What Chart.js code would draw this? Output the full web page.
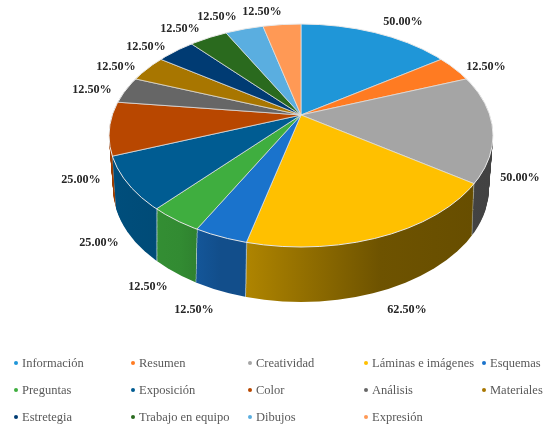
<!DOCTYPE html>
<html lang="es">
<head>
<meta charset="utf-8">
<title>Pie 3D</title>
<script src="https://cdn.jsdelivr.net/npm/chart.js@4/dist/chart.umd.min.js"></script>
<style>
    html, body { margin: 0; padding: 0; background: #fff; }
    #wrap { position: relative; width: 552px; height: 426px; overflow: hidden; filter: blur(0.45px); }
    #pie { position: absolute; left: 0; top: 0; }
    .item {
        position: absolute;
        font: 12.5px "Liberation Serif", serif;
        color: #595959;
        white-space: nowrap;
        line-height: 14px;
    }
    .item i {
        position: absolute;
        left: -8px;
        top: 5px;
        width: 4px;
        height: 4px;
        border-radius: 50%;
    }
</style>
</head>
<body>
<div id="wrap">
    <canvas id="pie" width="552" height="426"></canvas>
</div>
<script>
const categories = ['Información', 'Resumen', 'Creatividad', 'Láminas e imágenes', 'Esquemas',
    'Preguntas', 'Exposición', 'Color', 'Análisis', 'Materiales',
    'Estretegia', 'Trabajo en equipo', 'Dibujos', 'Expresión'];
const values = [50, 12.5, 50, 62.5, 12.5, 12.5, 25, 25, 12.5, 12.5, 12.5, 12.5, 12.5, 12.5];
const sliceColors = ['#1f96d8', '#ff7b22', '#a5a5a5', '#ffc000', '#1a73cc', '#3fae3f', '#005c92',
    '#b84700', '#666666', '#a87600', '#003b73', '#2a6a1e', '#5aaee0', '#ff9955'];

// centre of each percentage label, in page pixels
const labelPositions = [[403, 22], [486, 67], [520, 178], [407, 310], [194, 310], [148, 287], [99, 243],
    [81, 180], [92, 90], [116, 67], [146, 47], [180, 29], [217, 17], [262, 12]];

// legend grid
const legendColumns = [22, 139, 256, 372, 490];
const legendRows = [363, 390, 417];

// pie projection: slice rays start at the apex, the outline is a separate ellipse
const APEX = { x: 301, y: 115 };
const RIM = { x: 301, y: 135.5, rx: 192, ry: 111.5 };
const BASE = { x: 301, y: 188, rx: 188, ry: 114 };
const DEPTH = 52;
const SQUASH = 0.575;
const REACH = 250;

// wall brightness going left to right across the page
const wallShade = [[110, 0.85], [180, 0.8], [220, 0.68], [250, 0.68], [380, 0.43], [490, 0.4]];

function shade(hex, f) {
    const n = parseInt(hex.slice(1), 16);
    const r = Math.round((n >> 16) * f);
    const g = Math.round(((n >> 8) & 255) * f);
    const b = Math.round((n & 255) * f);
    return `rgb(${r},${g},${b})`;
}

function drawLayer(ctx, arcs, t, styles) {
    const lerp = (a, b) => a + (b - a) * t;
    ctx.save();
    ctx.beginPath();
    ctx.ellipse(lerp(RIM.x, BASE.x), lerp(RIM.y, BASE.y), lerp(RIM.rx, BASE.rx), lerp(RIM.ry, BASE.ry), 0, 0, Math.PI * 2);
    ctx.clip();
    const k = REACH / arcs[0].outerRadius;
    ctx.translate(APEX.x, APEX.y + t * DEPTH);
    ctx.scale(k, k * SQUASH);
    ctx.translate(-arcs[0].x, -arcs[0].y);
    arcs.forEach((arc, i) => {
        const original = arc.options;
        if (styles) arc.options = { ...original, ...styles[i] };
        arc.draw(ctx);
        arc.options = original;
    });
    ctx.restore();
}

const pie3d = {
    id: 'pie3d',
    beforeDatasetsDraw(chart) {
        const ctx = chart.ctx;
        const arcs = chart.getDatasetMeta(0).data;
        const k = REACH / arcs[0].outerRadius;
        const toUser = px => arcs[0].x + (px - APEX.x) / k;
        const walls = sliceColors.map(color => {
            const x0 = wallShade[0][0];
            const x1 = wallShade[wallShade.length - 1][0];
            const g = ctx.createLinearGradient(toUser(x0), 0, toUser(x1), 0);
            wallShade.forEach(([x, f]) => g.addColorStop((x - x0) / (x1 - x0), shade(color, f)));
            return { backgroundColor: g, borderColor: 'rgba(215,225,230,0.8)' };
        });
        for (let d = DEPTH; d > 0; d--) {
            drawLayer(ctx, arcs, d / DEPTH, walls);
        }
        drawLayer(ctx, arcs, 0, null);

        // light edge where the top meets the wall
        ctx.save();
        ctx.strokeStyle = '#e8e8e8';
        ctx.lineWidth = 1;
        ctx.beginPath();
        ctx.ellipse(RIM.x, RIM.y, RIM.rx, RIM.ry, 0, 0, Math.PI * 2);
        ctx.stroke();
        ctx.restore();
        return false;
    },
    afterDraw(chart) {
        const ctx = chart.ctx;
        ctx.save();
        ctx.font = 'bold 12.2px "Liberation Serif", serif';
        ctx.fillStyle = '#262626';
        ctx.textAlign = 'center';
        ctx.textBaseline = 'middle';
        values.forEach((v, i) => {
            ctx.fillText(v.toFixed(2) + '%', labelPositions[i][0], labelPositions[i][1]);
        });
        ctx.restore();
    }
};

new Chart(document.getElementById('pie'), {
    type: 'pie',
    data: {
        labels: categories,
        datasets: [{
            data: values,
            backgroundColor: sliceColors,
            borderColor: '#e4e4e4',
            borderWidth: 0.8
        }]
    },
    options: {
        responsive: false,
        animation: false,
        events: [],
        plugins: {
            legend: { display: false },
            tooltip: { enabled: false }
        }
    },
    plugins: [pie3d]
});

// legend: five columns, filled row by row
const wrap = document.getElementById('wrap');
categories.forEach((name, i) => {
    const item = document.createElement('div');
    item.className = 'item';
    item.style.left = legendColumns[i % 5] + 'px';
    item.style.top = (legendRows[Math.floor(i / 5)] - 7) + 'px';
    const dot = document.createElement('i');
    dot.style.background = sliceColors[i];
    item.appendChild(dot);
    item.appendChild(document.createTextNode(name));
    wrap.appendChild(item);
});
</script>
</body>
</html>
